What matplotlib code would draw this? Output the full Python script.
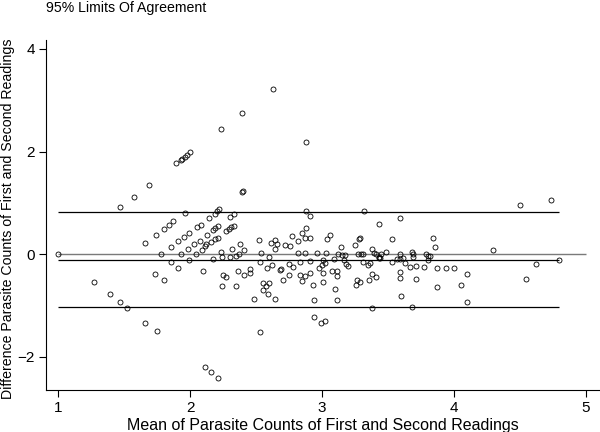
import numpy as np
import matplotlib.pyplot as plt

plt.rcParams['font.family'] = ['Liberation Sans', 'DejaVu Sans']

# ----------------- Data -----------------
mean_vals = [
    1.00, 1.27, 1.39, 1.47, 1.52, 1.47, 1.57, 1.69, 1.66, 1.66,
    1.74, 1.73, 1.75, 1.78, 1.80, 1.80, 1.84, 1.85, 1.85, 1.87,
    1.89, 1.93, 1.94, 1.96, 1.975, 2.00, 1.91, 1.91, 1.93, 1.95,
    1.96, 1.98, 1.99, 1.99, 2.03, 2.045, 2.05, 2.08, 2.07, 2.09,
    2.10, 2.11, 2.16, 2.21, 2.11, 2.13, 2.14, 2.12, 2.16, 2.19,
    2.21, 2.17, 2.19, 2.21, 2.19, 2.20, 2.22, 2.27, 2.29, 2.31,
    2.33, 2.30, 2.33, 2.23, 2.39, 2.63, 2.39, 2.40, 2.88, 2.38,
    2.17, 2.235, 2.24, 2.30, 2.32, 2.35, 2.37, 2.41, 2.25, 2.27,
    2.24, 2.35, 2.36, 2.41, 2.45, 2.45, 2.48, 2.52, 2.53, 2.54,
    2.53, 2.58, 2.555, 2.60, 2.575, 2.555, 2.59, 2.64, 2.62, 2.60,
    2.61, 2.64, 2.66, 2.64, 2.68, 2.69, 2.70, 2.716, 2.76, 2.75,
    2.78, 2.75, 2.77, 2.82, 2.82, 2.835,
    2.88, 2.91, 2.88, 2.85, 2.87, 2.91, 2.87, 2.96, 3.03, 2.91,
    2.835, 2.87, 2.85, 2.91, 2.93, 2.94, 3.01, 3.01, 2.98, 3.00,
    3.005, 3.02, 2.94, 2.99, 3.02, 3.04, 3.06, 3.09, 3.12, 3.15,
    3.14, 3.17, 3.165, 3.18, 3.20, 3.075, 3.11, 3.11, 3.10, 3.11,
    3.25, 3.28, 3.29, 3.27, 3.295, 3.31, 3.31, 3.35, 3.36, 3.256,
    3.267, 3.286, 3.357, 3.375, 3.41, 3.375, 3.32, 3.375, 3.39, 3.41,
    3.43, 3.43, 3.44, 3.45, 3.485, 3.43, 3.53, 3.53, 3.57, 3.59,
    3.59, 3.59, 3.59, 3.59, 3.60, 3.61, 3.63, 3.68, 3.69, 3.69,
    3.67, 3.71, 3.71, 3.68, 3.775, 3.79, 3.80, 3.82, 3.80, 3.84,
    3.855, 3.87, 3.87, 3.94, 4.00, 4.05, 4.10, 4.10, 4.30, 4.50,
    4.74, 4.62, 4.55, 4.80,
]
diff_vals = [
    0.00, -0.54, -0.78, -0.93, -1.05, 0.92, 1.12, 1.35, 0.23, -1.33,
    0.38, -0.39, -1.49, 0.00, 0.49, -0.50, 0.57, 0.15, -0.15, 0.64,
    1.77, 1.84, 1.86, 1.90, 1.93, 1.99, 0.25, -0.26, 0.00, 0.34,
    0.81, 0.10, 0.41, -0.12, 0.20, 0.00, 0.54, 0.57, 0.25, 0.08,
    -0.33, -2.20, -2.29, -2.40, 0.16, 0.38, 0.70, 0.20, 0.24, 0.30,
    0.32, 0.47, 0.52, 0.55, 0.79, 0.84, 0.88, 0.45, 0.49, 0.53,
    0.555, 0.73, 0.78, 2.45, 2.75, 3.23, 1.21, 1.23, 2.19, 0.21,
    -0.085, 0.05, -0.06, -0.06, 0.10, -0.04, 0.00, 0.09, -0.41, -0.45,
    -0.62, -0.62, -0.32, -0.41, -0.37, -0.28, -0.88, 0.28, -1.51, 0.03,
    -0.15, -0.26, -0.55, -0.55, -0.62, -0.70, -0.77, -0.88, -0.20, -0.05,
    0.22, 0.27, 0.20, 0.10, -0.31, -0.29, -0.51, 0.19, 0.17, -0.19,
    -0.24, -0.40, 0.35, 0.26, 0.02, -0.14,
    0.84, 0.75, 0.52, 0.42, 0.31, 0.315, 0.02, 0.02, 0.02, -0.13,
    -0.40, -0.42, -0.52, -0.36, -0.59, -0.89, -0.54, -0.37, -0.27, -0.21,
    -0.12, -0.175, -1.23, -1.33, -1.30, 0.29, 0.38, -0.085, 0.00, -0.01,
    0.14, -0.02, -0.11, -0.18, -0.23, -0.325, -0.32, -0.42, -0.68, -0.89,
    0.19, 0.30, 0.31, 0.00, 0.00, 0.01, -0.14, -0.21, -0.175, -0.60,
    -0.51, -0.53, -0.50, -0.38, -0.45, -1.05, 0.84, 0.10, 0.03, 0.00,
    -0.05, -0.07, -0.08, 0.00, 0.04, 0.59, 0.30, -0.14, -0.10, 0.00,
    -0.09, 0.70, -0.35, -0.46, -0.82, -0.07, -0.16, 0.04, 0.00, -0.05,
    -0.24, -0.23, -0.475, -1.03, -0.25, 0.00, -0.04, -0.04, -0.11, 0.31,
    0.15, -0.26, -0.63, -0.26, -0.26, -0.59, -0.39, -0.92, 0.09, 0.96,
    1.05, -0.19, -0.475, -0.105,
]

mean_diff = -0.107
upper_loa = 0.819
lower_loa = -1.033

x_ticks = [1, 2, 3, 4, 5]
y_ticks = [-2, 0, 2, 4]

# ----------------- Plot -----------------
fig = plt.figure(figsize=(6, 4.32), dpi=100)
ax = fig.add_axes([0.077, 0.097, 0.923, 0.811])

x_lo, x_hi = min(mean_vals), max(mean_vals)
ax.hlines(0, 1, 5, color='#7a7a7a', lw=1.0, zorder=1)
ax.hlines([upper_loa, mean_diff, lower_loa], x_lo, x_hi, color='black', lw=0.9, zorder=1)
ax.plot(mean_vals, diff_vals, 'o', ms=3.6, mfc='none', mec='black', mew=0.6, zorder=2)

ax.set_xlim(0.907, 5.108)
ax.set_ylim(-2.645, 4.18)
ax.set_xticks(x_ticks)
ax.set_yticks(y_ticks)
ax.tick_params(direction='out', length=5, width=0.8, labelsize=11, pad=3)
for s in ['top', 'right']:
    ax.spines[s].set_visible(False)
for s in ['left', 'bottom']:
    ax.spines[s].set_linewidth(0.8)

ax.set_xlabel('Mean of Parasite Counts of First and Second Readings', fontsize=11.5, labelpad=2)
ax.set_ylabel('Difference Parasite Counts of First and Second Readings', fontsize=10.2)
ax.yaxis.set_label_coords(-0.057, 0.49)
fig.text(0.077, 0.972, '95% Limits Of Agreement', fontsize=10.2, va='baseline', ha='left')

fig.savefig('out.png', dpi=100)
